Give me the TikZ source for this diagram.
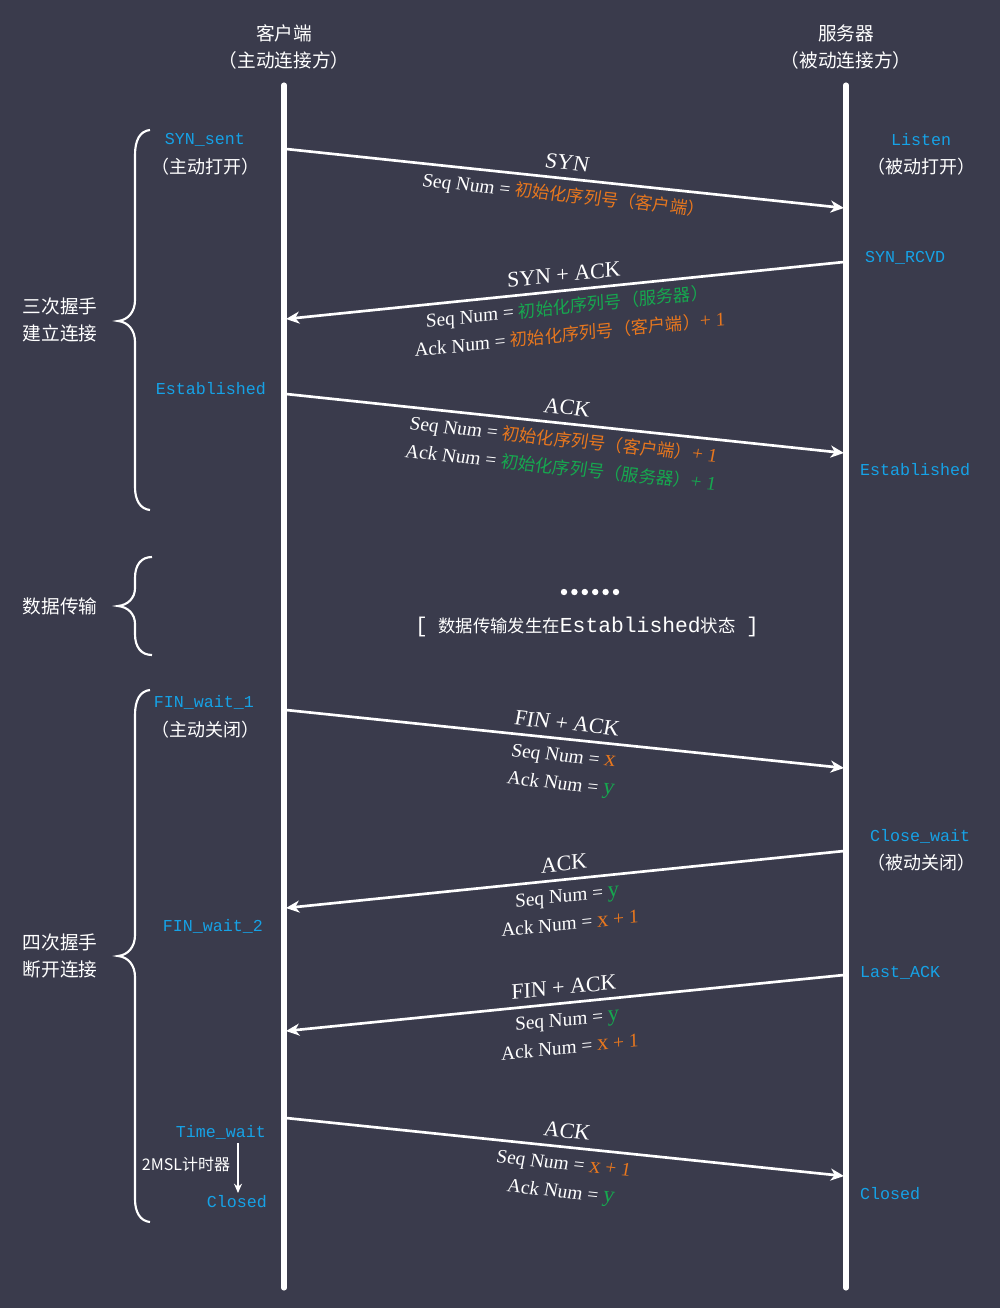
\documentclass[tikz,border=0pt]{standalone}
\usepackage{fontspec}
\setmainfont{Noto Sans CJK SC}
\setmonofont{Liberation Mono}
\newfontfamily\msgfont[FakeSlant=0.08]{Liberation Serif}
\newfontfamily\msgzhfont[FakeSlant=0.06]{Noto Sans CJK SC}
\usetikzlibrary{arrows.meta}
\definecolor{bg}{HTML}{3A3B4C}
\definecolor{stcyan}{HTML}{16A2E6}
\definecolor{orng}{HTML}{E8771E}
\definecolor{grn}{HTML}{16A84F}
\newcommand\SeqN{{\msgfont\fontsize{14.5}{15}\selectfont Seq Num = }}
\newcommand\AckN{{\msgfont\fontsize{14.5}{15}\selectfont Ack Num = }}
\newcommand\org[1]{\textcolor{orng}{#1}}
\newcommand\gre[1]{\textcolor{grn}{#1}}
\newcommand\zhm[1]{{\msgzhfont #1}}
\newcommand\lat[1]{{\msgfont\fontsize{14.5}{15}\selectfont #1}}
\newcommand\vx[1]{{\msgfont\fontsize{17}{15}\selectfont #1}}
\begin{document}
\begin{tikzpicture}[x=0.75pt,y=-0.75pt,
  every node/.style={text=white,inner sep=0pt},
  life/.style={draw=white,line width=3.8pt,line cap=round},
  msg/.style={draw=white,line width=2pt,-{Stealth[length=10pt,width=9pt,inset=3pt]}},
  bigl/.style={pos=0.5,sloped,yshift=12pt,font=\msgfont\fontsize{16.5}{18}\selectfont},
  linea/.style={pos=0.5,sloped,yshift=-13.5pt,font=\msgfont\fontsize{13}{15}\selectfont,text height=10pt,text depth=3pt},
  lineb/.style={pos=0.5,sloped,yshift=-34.5pt,font=\msgfont\fontsize{13}{15}\selectfont,text height=10pt,text depth=3pt},
  title/.style={font=\fontsize{14}{16}\selectfont},
  state/.style={text=stcyan,font=\ttfamily\fontsize{12.5}{15}\selectfont},
  paren/.style={font=\fontsize{13.5}{15}\selectfont},
  side/.style={align=center,font=\fontsize{14}{20}\selectfont},
  brc/.style={draw=white,line width=1.6pt}]

% background
\fill[bg] (0,0) rectangle (1000,1308);

% titles
\node[title] (ct1) at (284,33) {客户端};
\node[title] (ct2) at (284,60) {（主动连接方）};
\node[title] (st1) at (846,33) {服务器};
\node[title] (st2) at (846,60) {（被动连接方）};

% lifelines
\coordinate (cTop) at (284,85);
\coordinate (cBot) at (284,1288);
\coordinate (sTop) at (846,85);
\coordinate (sBot) at (846,1288);
\draw[life] (cTop) -- (cBot);
\draw[life] (sTop) -- (sBot);

% braces
\draw[brc] (150,130) .. controls (140,131) and (135,140) .. (135,155) -- (135,300)
  .. controls (135,312) and (128,320) .. (118,321)
  .. controls (128,322) and (135,330) .. (135,342) -- (135,487)
  .. controls (135,500) and (140,509) .. (150,510);
\draw[brc] (152,557) .. controls (141,557) and (135,565) .. (135,578) -- (135,588)
  .. controls (135,598) and (128,605) .. (118,606)
  .. controls (128,607) and (135,614) .. (135,624) -- (135,634)
  .. controls (135,647) and (141,655) .. (152,655);
\draw[brc] (150,690) .. controls (140,691) and (135,700) .. (135,715) -- (135,935)
  .. controls (135,947) and (128,955) .. (118,956)
  .. controls (128,957) and (135,965) .. (135,977) -- (135,1199)
  .. controls (135,1212) and (140,1221) .. (150,1222);

% side labels
\node[side] (g1) at (60,320) {三次握手\\建立连接};
\node[side] (g2) at (60,606) {数据传输};
\node[side] (g3) at (60,956) {四次握手\\断开连接};

% client states
\node[state] (c1) at (205,140) {SYN\_sent};
\node[paren] (c1p) at (205,167) {（主动打开）};
\node[state] (c2) at (211,389) {Established};
\node[state] (c3) at (204,702) {FIN\_wait\_1};
\node[paren] (c3p) at (205,730) {（主动关闭）};
\node[state] (c4) at (213,926) {FIN\_wait\_2};
\node[state] (c5) at (221,1132) {Time\_wait};
\node[state] (c6) at (237,1202) {Closed};
\node[font=\fontsize{12}{14}\selectfont] (msl) at (186,1164) {2MSL计时器};
\coordinate (tw1) at (238,1143);
\coordinate (tw2) at (238,1193);
\draw[white,line width=1.2pt,-{Stealth[length=7pt,width=6pt]}] (tw1) -- (tw2);

% server states
\node[state] (s1) at (921,140) {Listen};
\node[paren] (s1p) at (921,167) {（被动打开）};
\node[state] (s2) at (905,258) {SYN\_RCVD};
\node[state] (s3) at (915,470) {Established};
\node[state] (s4) at (920,836) {Close\_wait};
\node[paren] (s4p) at (921,863) {（被动关闭）};
\node[state] (s5) at (900,973) {Last\_ACK};
\node[state] (s6) at (890,1194) {Closed};

% data transfer
\foreach \i in {0,...,5} {\fill[white] (564+10.4*\i,592) circle[radius=2.4pt];}
\node[font=\fontsize{13}{15}\selectfont] (dt) at (587,627)
  {{\ttfamily\fontsize{16}{15}\selectfont[}\hspace{8pt}数据传输发生在{\ttfamily\fontsize{16}{15}\selectfont Established}状态\hspace{8pt}{\ttfamily\fontsize{16}{15}\selectfont]}};

% message endpoints
\coordinate (a1) at (286,149);  \coordinate (b1) at (844,208);
\coordinate (a2) at (844,262);  \coordinate (b2) at (286,319);
\coordinate (a3) at (286,394);  \coordinate (b3) at (844,453);
\coordinate (a4) at (286,710);  \coordinate (b4) at (844,768);
\coordinate (a5) at (844,851);  \coordinate (b5) at (286,908);
\coordinate (a6) at (844,975);  \coordinate (b6) at (286,1031);
\coordinate (a7) at (286,1118); \coordinate (b7) at (844,1176);

\draw[msg] (a1) -- node[bigl] (m1t) {SYN}
  node[linea] (m1a) {\SeqN\org{\zhm{初始化序列号（客户端）}}} (b1);
\draw[msg] (a2) -- node[bigl] (m2t) {SYN + ACK}
  node[linea] (m2a) {\SeqN\gre{\zhm{初始化序列号（服务器）}}}
  node[lineb] (m2b) {\AckN\org{\zhm{初始化序列号（客户端）}\lat{+ 1}}} (b2);
\draw[msg] (a3) -- node[bigl] (m3t) {ACK}
  node[linea] (m3a) {\SeqN\org{\zhm{初始化序列号（客户端）}\lat{+ 1}}}
  node[lineb] (m3b) {\AckN\gre{\zhm{初始化序列号（服务器）}\lat{+ 1}}} (b3);
\draw[msg] (a4) -- node[bigl] (m4t) {FIN + ACK}
  node[linea] (m4a) {\SeqN\org{\vx{x}}}
  node[lineb] (m4b) {\AckN\gre{\vx{y}}} (b4);
\draw[msg] (a5) -- node[bigl] (m5t) {ACK}
  node[linea] (m5a) {\SeqN\gre{\vx{y}}}
  node[lineb] (m5b) {\AckN\org{\vx{x}\lat{ + 1}}} (b5);
\draw[msg] (a6) -- node[bigl] (m6t) {FIN + ACK}
  node[linea] (m6a) {\SeqN\gre{\vx{y}}}
  node[lineb] (m6b) {\AckN\org{\vx{x}\lat{ + 1}}} (b6);
\draw[msg] (a7) -- node[bigl] (m7t) {ACK}
  node[linea] (m7a) {\SeqN\org{\vx{x}\lat{ + 1}}}
  node[lineb] (m7b) {\AckN\gre{\vx{y}}} (b7);
\end{tikzpicture}
\end{document}
